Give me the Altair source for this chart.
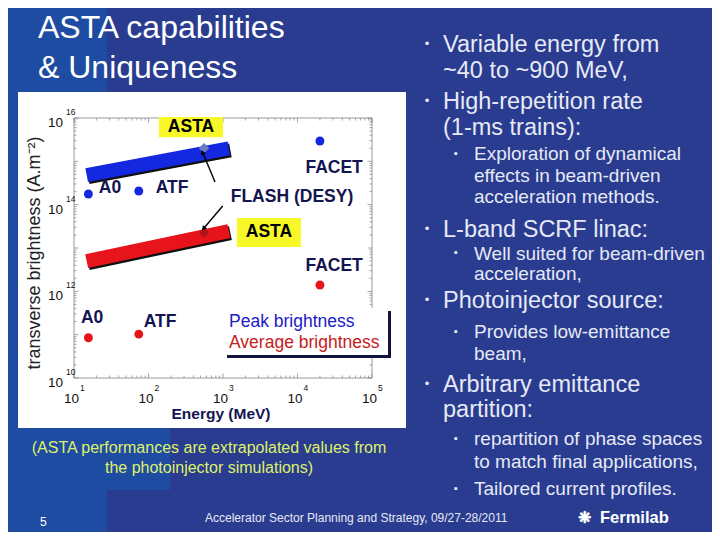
import altair as alt
import pandas as pd

# ---------------- data ----------------
peak_names = ["A0", "ATF", "FACET"]
peak_energy = [15.6, 74.0, 20000.0]          # MeV
peak_bright = [1.76e14, 2.07e14, 2.95e15]    # A.m^-2
avg_names = ["A0", "ATF", "FACET"]
avg_energy = [15.6, 74.0, 20000.0]
avg_bright = [8.5e10, 1.03e11, 1.4e12]

flash_energy = [556.0]
flash_peak = [2.0e15]
flash_avg = [2.25e13]

asta_energy = [14.8, 1200.0]
asta_peak = [4.8e14, 2.0e15]
asta_avg = [5.0e12, 2.45e13]

x_ticks = [10, 100, 1000, 10000, 100000]
x_exps = ["1", "2", "3", "4", "5"]
y_ticks = [1e10, 1e12, 1e14, 1e16]
y_exps = ["10", "12", "14", "16"]

# annotations (data coordinates)
label_text = ["A0", "ATF", "FACET", "FLASH (DESY)", "FACET", "A0", "ATF"]
label_energy = [30.4, 207, 31000, 8430, 31000, 17.5, 143]
label_bright = [2.4e14, 2.4e14, 7.0e14, 1.5e14, 3.8e12, 2.4e11, 1.96e11]

asta_label_energy = [372, 4140]
asta_label_bright = [6.2e15, 2.3e13]
asta_box_e1 = [138, 1540]
asta_box_e2 = [1000, 11100]
asta_box_b1 = [1.05e16, 4.9e13]
asta_box_b2 = [3.6e15, 1.05e13]

arrow_e1 = [782, 990]
arrow_b1 = [3.33e14, 9.3e13]
arrow_e2 = [537, 556]
arrow_b2 = [1.55e15, 2.9e13]
arrow_angle = [337.5, 219.6]

# ---------------- styling / layout ----------------
FONT = "Liberation Sans"
BG = "#293c8f"
BG_LIGHT = "#1f4ca3"
BLUE = "#1428e0"
RED = "#e8141c"
NAVY = "#141450"
SLIDE_TXT = "#e6e9f6"
NOTE = "#dff06a"
OX, OY = 74, 118      # page position of the plot's top-left corner
W, H = 298, 260


def px(x):
    return x - OX


def py(y):
    return y - OY


one = pd.DataFrame({"a": [0]})
xs = alt.Scale(type="log", domain=[10, 1e5], nice=False)
ys = alt.Scale(type="log", domain=[1e10, 1e16], nice=False)


def X(f="E"):
    return alt.X(f"{f}:Q", scale=xs, axis=None)


def Y(f="B"):
    return alt.Y(f"{f}:Q", scale=ys, axis=None)


def rect(x1, y1, x2, y2, color, **kw):
    return alt.Chart(one).mark_rect(color=color, **kw).encode(
        x=alt.value(px(x1)), x2=alt.value(px(x2)),
        y=alt.value(py(y1)), y2=alt.value(py(y2)))


def text(t, x, y, size, color, weight="normal", align="left",
         baseline="alphabetic", angle=None):
    kw = dict(align=align, baseline=baseline, fontSize=size, color=color,
              fontWeight=weight, font=FONT)
    if angle is not None:
        kw["angle"] = angle
    return alt.Chart(one).mark_text(**kw).encode(
        x=alt.value(px(x)), y=alt.value(py(y)), text=alt.value(t))


layers = []

# slide background shapes
layers.append(rect(0, -10, 107, 560, BG_LIGHT))
layers.append(rect(107, 428, 170, 490, BG_LIGHT))
# white chart panel
layers.append(rect(18, 92, 406, 428, "white"))

# frame and ticks
layers.append(alt.Chart(one).mark_rect(fillOpacity=0, stroke="#808080", strokeWidth=0.8).encode(
    x=alt.value(0), x2=alt.value(W), y=alt.value(0), y2=alt.value(H)))
minor_x = [m * 10.0 ** k for k in range(1, 5) for m in range(2, 10)]
minor_y = [m * 10.0 ** k for k in range(10, 16) for m in range(2, 10)]
major_y = [10.0 ** k for k in range(10, 17)]
for vals, ln in ((minor_x, 2.5), (x_ticks, 4.5)):
    d = pd.DataFrame({"E": vals})
    layers.append(alt.Chart(d).mark_rule(color="#808080", strokeWidth=0.7).encode(
        x=X(), y=alt.value(H), y2=alt.value(H - ln)))
    layers.append(alt.Chart(d).mark_rule(color="#808080", strokeWidth=0.7).encode(
        x=X(), y=alt.value(0), y2=alt.value(ln)))
for vals, ln in ((minor_y, 2.5), (major_y, 4.5)):
    d = pd.DataFrame({"B": vals})
    layers.append(alt.Chart(d).mark_rule(color="#808080", strokeWidth=0.7).encode(
        y=Y(), x=alt.value(0), x2=alt.value(ln)))
    layers.append(alt.Chart(d).mark_rule(color="#808080", strokeWidth=0.7).encode(
        y=Y(), x=alt.value(W), x2=alt.value(W - ln)))

# tick labels
xt = pd.DataFrame({"E": x_ticks, "exp": x_exps})
layers.append(alt.Chart(xt).mark_text(align="center", fontSize=13.5, color="#111", dx=-2.5, font=FONT).encode(
    x=X(), y=alt.value(py(399)), text=alt.value("10")))
layers.append(alt.Chart(xt).mark_text(align="left", fontSize=8.5, color="#111", dx=6, font=FONT).encode(
    x=X(), y=alt.value(py(388)), text="exp:N"))
yt = pd.DataFrame({"B": y_ticks, "exp": y_exps})
layers.append(alt.Chart(yt).mark_text(align="right", fontSize=13.5, color="#111", dy=5, font=FONT).encode(
    y=Y(), x=alt.value(px(63)), text=alt.value("10")))
layers.append(alt.Chart(yt).mark_text(align="left", fontSize=8.5, color="#111", dy=-6, font=FONT).encode(
    y=Y(), x=alt.value(px(66)), text="exp:N"))

# axis titles
layers.append(text("transverse brightness (A.m⁻²)", 35, 253, 18, "#222",
                   align="center", baseline="middle", angle=270))
layers.append(text("Energy (MeV)", 221, 419, 15.5, NAVY, weight="bold", align="center"))

# ASTA bands
for vals, col in ((asta_peak, BLUE), (asta_avg, RED)):
    d = pd.DataFrame({"E": asta_energy, "B": vals})
    layers.append(alt.Chart(d).mark_line(color="#101010", strokeWidth=14, strokeCap="butt",
                                         xOffset=1.5, yOffset=2).encode(x=X(), y=Y()))
    layers.append(alt.Chart(d).mark_line(color=col, strokeWidth=14, strokeCap="butt").encode(x=X(), y=Y()))

# measured points
pk = pd.DataFrame({"name": peak_names, "E": peak_energy, "B": peak_bright})
av = pd.DataFrame({"name": avg_names, "E": avg_energy, "B": avg_bright})
layers.append(alt.Chart(pk).mark_circle(size=80, opacity=1, color=BLUE).encode(x=X(), y=Y()))
layers.append(alt.Chart(av).mark_circle(size=80, opacity=1, color=RED).encode(x=X(), y=Y()))

# FLASH diamonds
fp = pd.DataFrame({"E": flash_energy, "B": flash_peak})
fa = pd.DataFrame({"E": flash_energy, "B": flash_avg})
layers.append(alt.Chart(fp).mark_point(shape="diamond", filled=True, size=110, opacity=1,
                                       color="#6c7ac2").encode(x=X(), y=Y()))
layers.append(alt.Chart(fa).mark_point(shape="diamond", filled=True, size=110, opacity=1,
                                       color="#b01418").encode(x=X(), y=Y()))

# arrows
ar = pd.DataFrame({"E": arrow_e1, "B": arrow_b1, "E2": arrow_e2, "B2": arrow_b2})
layers.append(alt.Chart(ar).mark_rule(color="black", strokeWidth=1.4).encode(
    x=X(), y=Y(), x2=alt.X2("E2:Q"), y2=alt.Y2("B2:Q")))
ah = pd.DataFrame({"E": arrow_e2, "B": arrow_b2, "ang": arrow_angle})
layers.append(alt.Chart(ah).mark_point(shape="triangle", filled=True, size=30, opacity=1,
                                       color="black").encode(
    x=X(), y=Y(), angle=alt.Angle("ang:Q", scale=None)))

# ASTA yellow boxes + labels
ab = pd.DataFrame({"E": asta_box_e1, "E2": asta_box_e2, "B": asta_box_b1, "B2": asta_box_b2})
layers.append(alt.Chart(ab).mark_rect(color="#f8f828").encode(
    x=X(), x2=alt.X2("E2:Q"), y=Y(), y2=alt.Y2("B2:Q")))
al = pd.DataFrame({"E": asta_label_energy, "B": asta_label_bright})
layers.append(alt.Chart(al).mark_text(fontSize=17.5, fontWeight="bold", color="black",
                                      baseline="middle", font=FONT).encode(
    x=X(), y=Y(), text=alt.value("ASTA")))

# facility labels
lb = pd.DataFrame({"t": label_text, "E": label_energy, "B": label_bright})
layers.append(alt.Chart(lb).mark_text(fontSize=17.5, fontWeight="bold", color=NAVY,
                                      baseline="middle", font=FONT).encode(
    x=X(), y=Y(), text="t:N"))

# legend box
layers.append(rect(227, 311, 391, 358, "#141440"))
layers.append(rect(224, 308, 388, 355, "white"))
layers.append(text("Peak brightness", 229, 327, 17.5, "#2020c8"))
layers.append(text("Average brightness", 229, 348, 17.5, "#c82020"))

# ---------------- slide text ----------------
layers.append(text("ASTA capabilities", 38, 37.5, 32, "white"))
layers.append(text("& Uniqueness", 38, 78, 32, "white"))

main_lines = [("Variable energy from", 51.7, True), ("~40 to ~900 MeV,", 78, False),
              ("High-repetition rate", 109, True), ("(1-ms trains):", 135, False),
              ("L-band SCRF linac:", 236.7, True), ("Photoinjector source:", 308, True),
              ("Arbitrary emittance", 391.7, True), ("partition:", 416.7, False)]
for t, yb, bul in main_lines:
    layers.append(text(t, 443, yb, 23.5, SLIDE_TXT))
    if bul:
        layers.append(text("•", 427, yb - 8, 13, SLIDE_TXT, align="center", baseline="middle"))

sub_lines = [("Exploration of dynamical", 160, True), ("effects in beam-driven", 181.7, False),
             ("acceleration methods.", 203, False), ("Well suited for beam-driven", 259.5, True),
             ("acceleration,", 280, False), ("Provides low-emittance", 338, True),
             ("beam,", 360, False), ("repartition of phase spaces", 445, True),
             ("to match final applications,", 468, False), ("Tailored current profiles.", 495, True)]
for t, yb, bul in sub_lines:
    layers.append(text(t, 474, yb, 19, SLIDE_TXT))
    if bul:
        layers.append(text("▪", 456, yb - 6.5, 11, SLIDE_TXT, align="center", baseline="middle"))

layers.append(text("(ASTA performances are extrapolated values from", 209, 453, 16, NOTE, align="center"))
layers.append(text("the photoinjector simulations)", 209, 473, 16, NOTE, align="center"))
layers.append(text("5", 40, 525.7, 12, "white"))
layers.append(text("Accelerator Sector Planning and Strategy, 09/27-28/2011", 205, 521.7, 12, SLIDE_TXT))
layers.append(text("❋", 584, 523, 16, "white", weight="bold", align="center"))
layers.append(text("Fermilab", 600, 523, 16.5, "white", weight="bold"))

chart = alt.layer(*layers).properties(
    width=W, height=H,
    padding={"left": OX - 8, "top": OY - 8, "right": 704 - (OX - 8) - W, "bottom": 524 - (OY - 8) - H},
    autosize=alt.AutoSizeParams(type="none"),
).configure(background=BG, font=FONT).configure_view(strokeWidth=0)

chart.save("out.html", embed_options={"renderer": "svg", "actions": False})
